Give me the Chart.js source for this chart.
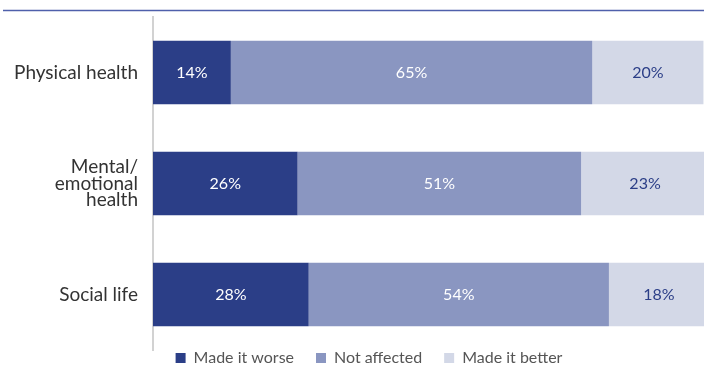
<!DOCTYPE html>
<html>
<head>
<meta charset="utf-8">
<script src="https://cdn.jsdelivr.net/npm/chart.js@4/dist/chart.umd.min.js"></script>
<style>
  html, body { margin: 0; padding: 0; background: #ffffff; overflow: hidden; }
  #wrap { position: relative; width: 704px; height: 366px; }
</style>
</head>
<body>
<div id="wrap"><canvas id="chart"></canvas></div>
<script>
// Impact of the pandemic on three areas of life (share of respondents, %)
const categories = ['Physical health', ['Mental/', 'emotional', 'health'], 'Social life'];
const seriesNames = ['Made it worse', 'Not affected', 'Made it better'];
const madeWorse = [14, 26, 28];
const notAffected = [65, 51, 54];
const madeBetter = [20, 23, 18];

const colors = ['#2b3e87', '#8a96c1', '#d3d8e7'];
const labelColors = ['#ffffff', '#ffffff', '#2b3e87'];

// Writes each segment's percentage at the centre of its bar
const segmentLabels = {
  id: 'segmentLabels',
  afterDatasetsDraw(chart) {
    const ctx = chart.ctx;
    ctx.save();
    ctx.font = '16px Lato';
    ctx.textAlign = 'center';
    ctx.textBaseline = 'middle';
    chart.data.datasets.forEach((ds, di) => {
      const meta = chart.getDatasetMeta(di);
      meta.data.forEach((bar, i) => {
        const p = bar.getProps(['x', 'y', 'base'], true);
        ctx.fillStyle = labelColors[di];
        ctx.fillText(ds.data[i] + '%', (p.x + p.base) / 2, p.y);
      });
    });
    ctx.restore();
  }
};

// Thin rule across the top of the figure
const topRule = {
  id: 'topRule',
  beforeDraw(chart) {
    const ctx = chart.ctx;
    ctx.save();
    ctx.strokeStyle = '#4f60ab';
    ctx.lineWidth = 1.5;
    ctx.beginPath();
    ctx.moveTo(3, 10.5);
    ctx.lineTo(chart.width, 10.5);
    ctx.stroke();
    ctx.restore();
  }
};

// Compact legend strip along the bottom edge, centred under the bars
const compactLegend = {
  id: 'compactLegend',
  beforeInit(chart) {
    const legend = chart.legend;
    if (!legend) return;
    const fit = legend.fit;
    legend.fit = function () {
      fit.call(this);
      this.height = 16;
    };
  },
  afterLayout(chart) {
    const legend = chart.legend;
    if (!legend) return;
    legend.top -= legend.options.labels.padding;
    legend.left += 34;
  }
};

new Chart(document.getElementById('chart'), {
  type: 'bar',
  data: {
    labels: categories,
    datasets: [
      { label: seriesNames[0], data: madeWorse, backgroundColor: colors[0] },
      { label: seriesNames[1], data: notAffected, backgroundColor: colors[1] },
      { label: seriesNames[2], data: madeBetter, backgroundColor: colors[2] }
    ]
  },
  options: {
    indexAxis: 'y',
    responsive: true,
    maintainAspectRatio: false,
    animation: false,
    barPercentage: 0.57,
    categoryPercentage: 1,
    layout: { padding: { left: 0, top: 17, right: 0, bottom: 0 } },
    scales: {
      x: {
        stacked: true,
        min: 0,
        max: 99.1,
        display: false
      },
      y: {
        stacked: true,
        grid: { display: false },
        border: { display: true, color: '#d2d2d2', width: 2 },
        ticks: {
          padding: 7,
          color: '#333333',
          font: { family: 'Lato', size: 19, lineHeight: 0.87 }
        },
        afterFit(scale) {
          scale.width = 153;
          scale.paddingTop = 0;
          scale.paddingBottom = 0;
        }
      }
    },
    plugins: {
      legend: {
        position: 'bottom',
        labels: {
          boxWidth: 10,
          boxHeight: 10,
          padding: 22,
          color: '#555555',
          font: { family: 'Lato', size: 16 }
        }
      },
      tooltip: { enabled: false }
    }
  },
  plugins: [topRule, segmentLabels, compactLegend]
});
</script>
</body>
</html>
